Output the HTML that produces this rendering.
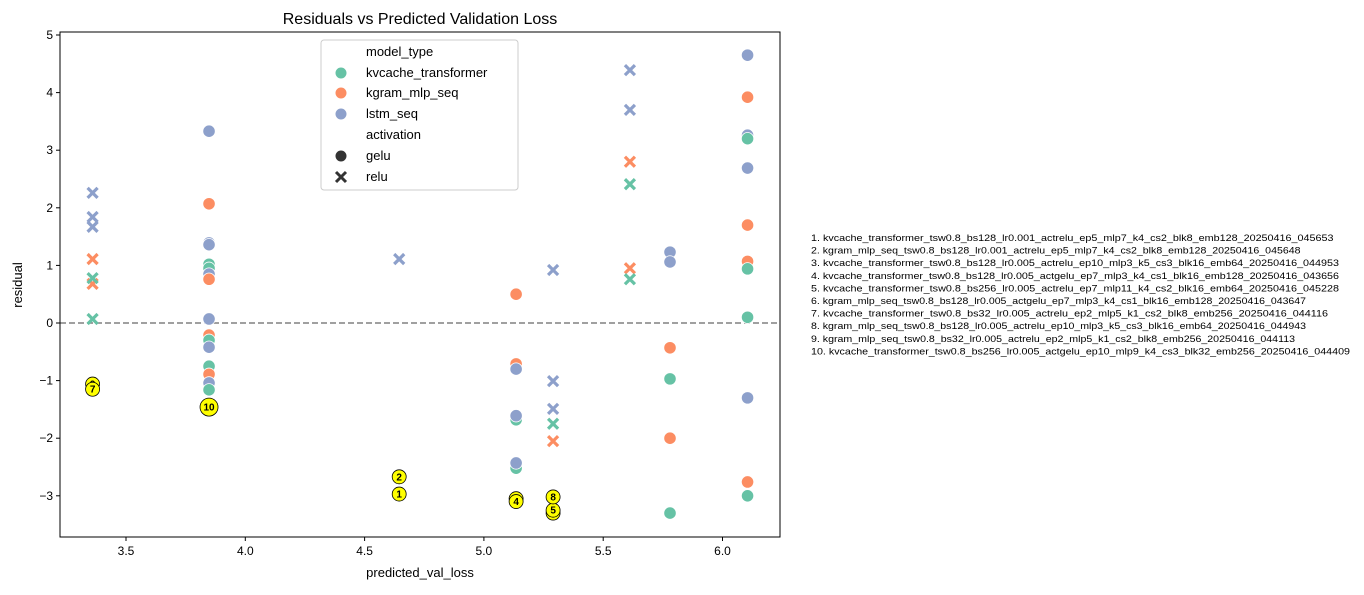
<!DOCTYPE html>
<html><head><meta charset="utf-8"><style>
body{margin:0;background:#fff;font-family:"Liberation Sans",sans-serif;}
svg text{font-family:"Liberation Sans","DejaVu Sans",sans-serif;}
</style></head><body>
<svg id="chart" width="1364" height="590" xmlns="http://www.w3.org/2000/svg">
<text x="420" y="24" font-size="16" text-anchor="middle">Residuals vs Predicted Validation Loss</text>
<g id="grid"></g>
<g id="marks"></g>
<g id="hl"></g>
<rect x="60" y="32" width="720" height="505" fill="none" stroke="#000" stroke-width="1"/>
<text x="420" y="577" font-size="13" text-anchor="middle">predicted_val_loss</text>
<text x="22" y="285" font-size="13" text-anchor="middle" transform="rotate(-90 22 285)">residual</text>
<g>
<rect x="321" y="40" width="197" height="150" rx="3" fill="#fff" fill-opacity="0.8" stroke="#ccc"/>
<text x="366" y="56" font-size="13">model_type</text>
<circle cx="341" cy="73" r="6" fill="#66c2a5" stroke="#fff"/><text x="366" y="77" font-size="13">kvcache_transformer</text>
<circle cx="341" cy="93" r="6" fill="#fc8d62" stroke="#fff"/><text x="366" y="97" font-size="13">kgram_mlp_seq</text>
<circle cx="341" cy="114" r="6" fill="#8da0cb" stroke="#fff"/><text x="366" y="118" font-size="13">lstm_seq</text>
<text x="366" y="139" font-size="13">activation</text>
<circle cx="341" cy="156" r="6" fill="#333" stroke="#fff"/><text x="366" y="160" font-size="13">gelu</text>
<path d="M336 172 L346 182 M346 172 L336 182" stroke="#333" stroke-width="3"/><text x="366" y="181" font-size="13">relu</text>
</g>
<g id="notes"></g>
</svg>
<script>
const xTicks=[3.5,4.0,4.5,5.0,5.5,6.0];
const yTicks=[-3,-2,-1,0,1,2,3,4,5];
const ptX=[3.36,3.36,3.36,3.36,3.36,3.36,3.36,
3.848,3.848,3.848,3.848,3.848,3.848,3.848,3.848,3.848,3.848,3.848,3.848,3.848,3.848,3.848,3.848,
4.645,
5.135,5.135,5.135,5.135,5.135,5.135,5.135,
5.29,5.29,5.29,5.29,5.29,
5.612,5.612,5.612,5.612,5.612,5.612,
5.78,5.78,5.78,5.78,5.78,5.78,
6.105,6.105,6.105,6.105,6.105,6.105,6.105,6.105,6.105,6.105,6.105,6.105];
const ptY=[2.26,1.84,1.67,1.11,0.68,0.78,0.07,
2.07,3.33,1.39,1.36,1.02,0.95,0.85,0.76,0.07,-0.21,-0.30,-0.42,-0.75,-0.89,-1.04,-1.16,
1.11,
0.5,-0.71,-0.8,-1.68,-1.61,-2.52,-2.43,
0.92,-1.01,-1.49,-1.75,-2.05,
4.39,3.70,2.80,2.41,0.95,0.76,
1.23,1.06,-0.43,-0.97,-2.0,-3.3,
4.65,3.92,3.26,3.2,2.69,1.70,1.07,0.94,0.1,-1.30,-2.76,-3.0];
const ptModel=["l","l","l","k","k","v","v",
"k","l","l","l","v","v","l","k","l","k","v","l","v","k","l","v",
"l",
"k","k","l","v","l","v","l",
"l","l","l","v","k",
"l","l","k","v","k","v",
"l","l","k","v","k","v",
"l","k","l","v","l","k","k","v","v","l","k","v"];
const ptAct=["r","r","r","r","r","r","r",
"g","g","g","g","g","g","g","g","g","g","g","g","g","g","g","g",
"r",
"g","g","g","g","g","g","g",
"r","r","r","r","r",
"r","r","r","r","r","r",
"g","g","g","g","g","g",
"g","g","g","g","g","g","g","g","g","g","g","g"];
const hlLabel=["9","7","10","1","2","6","4","3","5","8"];
const hlX=[3.36,3.36,3.848,4.645,4.645,5.135,5.135,5.29,5.29,5.29];
const hlY=[-1.06,-1.15,-1.46,-2.97,-2.67,-3.05,-3.1,-3.3,-3.25,-3.02];
const notes=["1. kvcache_transformer_tsw0.8_bs128_lr0.001_actrelu_ep5_mlp7_k4_cs2_blk8_emb128_20250416_045653",
"2. kgram_mlp_seq_tsw0.8_bs128_lr0.001_actrelu_ep5_mlp7_k4_cs2_blk8_emb128_20250416_045648",
"3. kvcache_transformer_tsw0.8_bs128_lr0.005_actrelu_ep10_mlp3_k5_cs3_blk16_emb64_20250416_044953",
"4. kvcache_transformer_tsw0.8_bs128_lr0.005_actgelu_ep7_mlp3_k4_cs1_blk16_emb128_20250416_043656",
"5. kvcache_transformer_tsw0.8_bs256_lr0.005_actrelu_ep7_mlp11_k4_cs2_blk16_emb64_20250416_045228",
"6. kgram_mlp_seq_tsw0.8_bs128_lr0.005_actgelu_ep7_mlp3_k4_cs1_blk16_emb128_20250416_043647",
"7. kvcache_transformer_tsw0.8_bs32_lr0.005_actrelu_ep2_mlp5_k1_cs2_blk8_emb256_20250416_044116",
"8. kgram_mlp_seq_tsw0.8_bs128_lr0.005_actrelu_ep10_mlp3_k5_cs3_blk16_emb64_20250416_044943",
"9. kgram_mlp_seq_tsw0.8_bs32_lr0.005_actrelu_ep2_mlp5_k1_cs2_blk8_emb256_20250416_044113",
"10. kvcache_transformer_tsw0.8_bs256_lr0.005_actgelu_ep10_mlp9_k4_cs3_blk32_emb256_20250416_044409"];
const colors={v:"#66c2a5",k:"#fc8d62",l:"#8da0cb"};
const X=v=>126+(v-3.5)*238.6;
const Y=v=>323-v*57.6;
const NS="http://www.w3.org/2000/svg";
function mk(tag,attrs,parent){const e=document.createElementNS(NS,tag);for(const k in attrs)e.setAttribute(k,attrs[k]);parent.appendChild(e);return e;}
const grid=document.getElementById('grid');
xTicks.forEach(t=>{
 const g=mk('g',{},grid);
 
 
 mk('line',{x1:X(t),x2:X(t),y1:537,y2:541,stroke:'#000'},g);
 const tx=mk('text',{x:X(t),y:555,'font-size':12,'text-anchor':'middle'},g);tx.textContent=t.toFixed(1);
});
yTicks.forEach(t=>{
 const g=mk('g',{},grid);
 
 
 mk('line',{x1:56,x2:60,y1:Y(t),y2:Y(t),stroke:'#000'},g);
 const tx=mk('text',{x:53,y:Y(t)+4,'font-size':12,'text-anchor':'end'},g);tx.textContent=String(t).replace('-','\u2212');
});
const zl=mk('line',{x1:60,x2:780,y1:Y(0),y2:Y(0),stroke:'#808080','stroke-width':1.6,'stroke-dasharray':'6,3'},grid);


const marks=document.getElementById('marks');
ptX.forEach((xv,i)=>{
 const cx=X(xv),cy=Y(ptY[i]),c=colors[ptModel[i]];
 let e;
 if(ptAct[i]==='g'){e=mk('circle',{cx:cx,cy:cy,r:6.2,fill:c,stroke:'#fff','stroke-width':0.8},marks);}
 else{e=mk('path',{d:`M${cx-5} ${cy-5}L${cx+5} ${cy+5}M${cx+5} ${cy-5}L${cx-5} ${cy+5}`,stroke:c,'stroke-width':3.2},marks);}
 
 
});
const hl=document.getElementById('hl');
hlX.forEach((xv,i)=>{
 const g=mk('g',{},hl);
 
 
 const big=hlLabel[i]==='10';
 mk('circle',{cx:X(xv),cy:Y(hlY[i]),r:big?9:7,fill:'#ffff00',stroke:'#000','stroke-width':0.8},g);
 const t=mk('text',{x:X(xv),y:Y(hlY[i])+3.5,'font-size':10,'font-weight':'bold','text-anchor':'middle'},g);t.textContent=hlLabel[i];
});
const nt=document.getElementById('notes');
notes.forEach((s,i)=>{
 const t=mk('text',{x:811,y:241+i*12.6,'font-size':9.5,textLength:(s.length*5.5).toFixed(1),lengthAdjust:'spacingAndGlyphs'},nt);t.textContent=s;
 
 
});
</script>
</body></html>
